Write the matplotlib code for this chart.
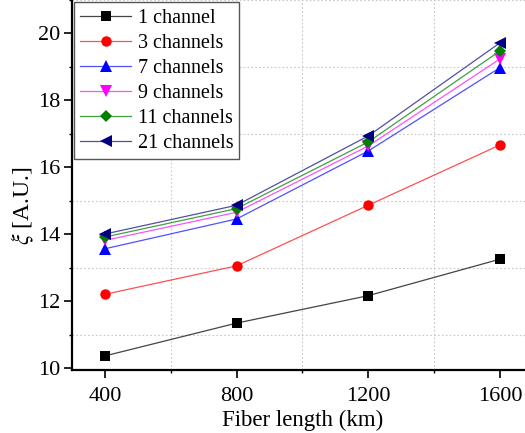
import matplotlib
matplotlib.use("Agg")
import matplotlib.pyplot as plt
from matplotlib.ticker import MultipleLocator

plt.rcParams['font.family'] = ['Liberation Serif', 'DejaVu Serif']
plt.rcParams['mathtext.fontset'] = 'stix'

fiber_length = [400, 800, 1200, 1600]
labels = ["1 channel", "3 channels", "7 channels", "9 channels", "11 channels", "21 channels"]
ch1 = [10.37, 11.35, 12.17, 13.26]
ch3 = [12.21, 13.06, 14.87, 16.67]
ch7 = [13.57, 14.46, 16.49, 18.98]
ch9 = [13.82, 14.66, 16.64, 19.24]
ch11 = [13.92, 14.77, 16.76, 19.48]
ch21 = [14.01, 14.87, 16.94, 19.72]
series = [ch1, ch3, ch7, ch9, ch11, ch21]

colors = ['black', 'red', 'blue', 'magenta', 'green', 'navy']
line_colors = ['#444444', '#ff5050', '#5050ff', '#ff50ff', '#40a040', '#5050a0']
markers = ['s', 'o', '^', 'v', 'D', '<']
msizes = [6.5, 7.5, 8, 8, 6.5, 8]

fig = plt.figure(figsize=(5.25, 4.33), dpi=100)
ax = fig.add_axes([0.137, 0.1455, 0.878, 0.8545])

for y, lab, c, lc, m, ms in zip(series, labels, colors, line_colors, markers, msizes):
    ax.plot(fiber_length, y, color=lc, marker=m, markersize=ms, lw=0.9,
            label=lab, markeredgewidth=0, markerfacecolor=c)

ax.set_xlim(300, 1700)
ax.set_ylim(9.95, 21)
ax.xaxis.set_major_locator(MultipleLocator(400))
ax.xaxis.set_minor_locator(MultipleLocator(200))
ax.yaxis.set_major_locator(MultipleLocator(2))
ax.yaxis.set_minor_locator(MultipleLocator(1))

ax.grid(which='minor', color='#c8c8c8', linestyle=(0, (1.5, 2)), lw=0.8)
ax.grid(which='major', visible=False)

ax.spines['right'].set_visible(False)
ax.spines['top'].set_visible(False)
for s in ['left', 'bottom']:
    ax.spines[s].set_linewidth(1.6)

ax.tick_params(which='major', direction='out', length=5.5, width=1.2,
               labelsize=16, pad=3)
ax.tick_params(axis='x', which='major', pad=7)
ax.tick_params(which='minor', direction='out', length=2, width=1.0)

ax.set_xlabel("Fiber length (km)", fontsize=16.5, labelpad=0)
ax.xaxis.set_label_coords(0.5, -0.108)
ax.set_ylabel(r"$\xi$ [A.U.]", fontsize=17, labelpad=2)
ax.yaxis.set_label_coords(-0.078, 0.443)

leg = ax.legend(loc='upper left', fontsize=14.5, frameon=True, fancybox=False,
                edgecolor='#555555', handlelength=2.5, borderaxespad=0.12,
                labelspacing=0.3, handletextpad=0.35, borderpad=0.3)
leg.get_frame().set_linewidth(1.0)
leg.get_frame().set_alpha(1)

fig.savefig("out.png", dpi=100)
